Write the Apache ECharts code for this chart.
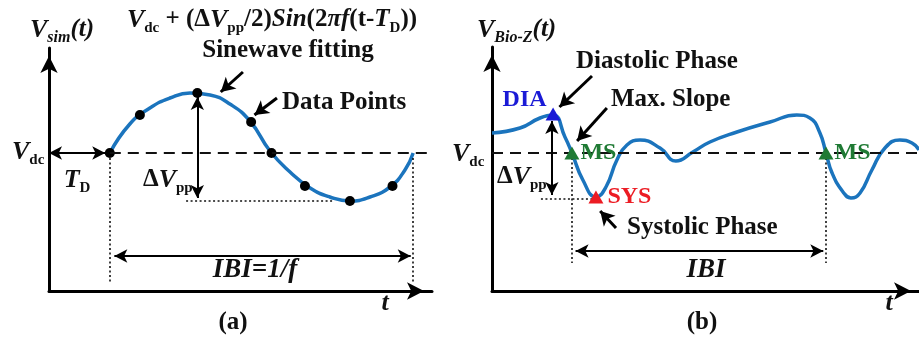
<!DOCTYPE html>
<html>
<head>
<meta charset="utf-8">
<title>Sinewave fitting / Bio-Z</title>
<script src="https://cdn.jsdelivr.net/npm/echarts@6/dist/echarts.min.js"></script>
<style>
  html, body { margin: 0; padding: 0; background: #fff; }
  #chart { width: 919px; height: 343px; }
</style>
</head>
<body>
<div id="chart"></div>
<script>
var FONT = '"Liberation Serif", "Times New Roman", serif';
var BLUE = '#1b74bd';

// (a) simulated signal + sinewave fitting  (t in s, V in a.u.)
var fitT = [0.200, 0.266, 0.332, 0.398, 0.464, 0.530, 0.595, 0.661, 0.727, 0.793, 0.859, 0.924, 0.990, 1.056, 1.122, 1.171, 1.198];
var fitV = [1.38, 1.67, 1.83, 1.93, 1.98, 1.96, 1.87, 1.70, 1.40, 1.19, 1.03, 0.94, 0.90, 0.94, 1.04, 1.21, 1.38];
var ptT = [0.20, 0.299, 0.488, 0.665, 0.732, 0.842, 0.990, 1.130];
var ptV = [1.38, 1.76, 1.98, 1.69, 1.38, 1.05, 0.90, 1.05];

// (b) measured Bio-Z waveform
var bioT = [0, 0.092, 0.158, 0.201, 0.240, 0.263, 0.299, 0.342, 0.375, 0.411, 0.444, 0.487, 0.553, 0.605, 0.661, 0.717,
            0.806, 0.915, 1.003, 1.046, 1.079, 1.099, 1.119, 1.155, 1.181, 1.211, 1.250, 1.293, 1.342, 1.382, 1.405];
var bioV = [1.58, 1.63, 1.73, 1.76, 1.54, 1.38, 1.11, 0.94, 1.04, 1.31, 1.46, 1.51, 1.43, 1.30, 1.39, 1.49,
            1.59, 1.69, 1.76, 1.73, 1.58, 1.38, 1.18, 0.99, 0.93, 0.98, 1.21, 1.43, 1.51, 1.48, 1.41];
var featName = ['DIA', 'MS', 'SYS', 'MS'];
var featT = [0.201, 0.263, 0.342, 1.099];
var featV = [1.77, 1.38, 0.94, 1.38];

var vdc = 1.38;

function zip(a, b) { return a.map(function (v, i) { return [v, b[i]]; }); }

var lineKinds = {
  dash: { line: { color: '#111', width: 2, type: [11, 7] }, s: ['none', 'none'] },
  dot:  { line: { color: '#111', width: 1.6, type: [2, 2.5] }, s: ['none', 'none'] },
  both: { line: { color: '#000', width: 2, type: 'solid' }, s: ['arrow', 'arrow'], size: [10, 13] },
  ptr:  { line: { color: '#000', width: 3, type: 'solid' }, s: ['none', 'arrow'], size: [12, 14] }
};
function seg(p, q, kind) {
  var k = lineKinds[kind];
  return [
    { coord: p, symbol: k.s[0], symbolSize: k.size || 1, lineStyle: k.line },
    { coord: q, symbol: k.s[1], symbolSize: k.size || 1, lineStyle: k.line }
  ];
}
function marks(list) {
  return { silent: true, animation: false, symbol: ['none', 'none'], label: { show: false },
           lineStyle: { type: 'solid', color: '#000' },
           emphasis: { disabled: true }, data: list };
}

function axisLine() {
  return { show: true, onZero: false, lineStyle: { color: '#000', width: 3 },
           symbol: ['none', 'arrow'], symbolSize: [13, 17], symbolOffset: [0, -8] };
}
function axis(idx, max) {
  return { type: 'value', gridIndex: idx, min: 0, max: max, axisLine: axisLine(),
           axisTick: { show: false }, axisLabel: { show: false }, splitLine: { show: false } };
}

var rich = {
  b:  { fontFamily: FONT, fontWeight: 'bold', fontSize: 25, lineHeight: 30 },
  i:  { fontFamily: FONT, fontWeight: 'bold', fontStyle: 'italic', fontSize: 25, lineHeight: 30 },
  w:  { fontFamily: FONT, fontWeight: 'bold', fontStyle: 'italic', fontSize: 27, lineHeight: 30 },
  V:  { fontFamily: FONT, fontWeight: 'bold', fontStyle: 'italic', fontSize: 26, lineHeight: 30 },
  s:  { fontFamily: FONT, fontWeight: 'bold', fontSize: 15, padding: [16, 0, 0, 0] },
  si: { fontFamily: FONT, fontWeight: 'bold', fontStyle: 'italic', fontSize: 16, padding: [16, 0, 0, 0] }
};
function txt(x, y, text, align, color) {
  return { type: 'text', x: x, y: y, silent: true,
           style: { text: text, rich: rich, align: align || 'left', verticalAlign: 'middle',
                    fill: color || '#111', fontFamily: FONT, fontWeight: 'bold', fontSize: 25 } };
}

var chart = echarts.init(document.getElementById('chart'));
chart.setOption({
  animation: false,
  backgroundColor: '#fff',
  grid: [
    { left: 49, top: 48, width: 383, height: 243 },
    { left: 492, top: 47, width: 427, height: 244 }
  ],
  xAxis: [axis(0, 1.26), axis(1, 1.405)],
  yAxis: [axis(0, 2.43), axis(1, 2.44)],
  series: [
    {
      type: 'line', xAxisIndex: 0, yAxisIndex: 0, data: zip(fitT, fitV), smooth: 0.5,
      showSymbol: false, lineStyle: { color: BLUE, width: 3.5 }, z: 3,
      markLine: marks([
        seg([0.20, vdc], [1.243, vdc], 'dash'),
        seg([0, vdc], [0.185, vdc], 'both'),
        seg([0.20, 1.33], [0.20, 0.07], 'dot'),
        seg([1.198, 1.33], [1.198, 0.07], 'dot'),
        seg([0.451, 0.90], [0.934, 0.90], 'dot'),
        seg([0.488, 1.94], [0.488, 0.93], 'both'),
        seg([0.215, 0.35], [1.19, 0.35], 'both'),
        seg([0.638, 2.19], [0.565, 1.99], 'ptr'),
        seg([0.750, 1.93], [0.676, 1.76], 'ptr')
      ])
    },
    {
      type: 'scatter', xAxisIndex: 0, yAxisIndex: 0, data: zip(ptT, ptV),
      symbolSize: 10, itemStyle: { color: '#000', opacity: 1 }, z: 4
    },
    {
      type: 'line', xAxisIndex: 1, yAxisIndex: 1, data: zip(bioT, bioV), smooth: 0.5,
      showSymbol: false, lineStyle: { color: BLUE, width: 3.5 }, z: 3,
      markLine: marks([
        seg([0, vdc], [1.405, vdc], 'dash'),
        seg([0.263, 1.33], [0.263, 0.28], 'dot'),
        seg([1.099, 1.33], [1.099, 0.28], 'dot'),
        seg([0.161, 0.92], [0.342, 0.92], 'dot'),
        seg([0.197, 1.70], [0.197, 0.96], 'both'),
        seg([0.275, 0.40], [1.09, 0.40], 'both'),
        seg([0.329, 2.15], [0.222, 1.84], 'ptr'),
        seg([0.378, 1.83], [0.280, 1.50], 'ptr'),
        seg([0.408, 0.63], [0.356, 0.80], 'ptr')
      ])
    },
    {
      type: 'scatter', xAxisIndex: 1, yAxisIndex: 1, symbol: 'triangle', symbolSize: [15, 13], z: 5,
      data: featName.map(function (n, i) {
        var c = n === 'DIA' ? '#1a1ad6' : (n === 'SYS' ? '#ec1c24' : '#1f7a34');
        return {
          value: [featT[i], featV[i]], itemStyle: { color: c, opacity: 1 },
          label: {
            show: true, formatter: n, color: c, opacity: 1, fontFamily: FONT, fontWeight: 'bold', fontSize: 24,
            position: n === 'DIA' ? 'left' : 'right',
            distance: n === 'SYS' ? 4 : 1,
            offset: n === 'DIA' ? [2, -14] : [0, 0]
          }
        };
      })
    }
  ],
  graphic: [
    txt(30, 30, '{V|V}{si|sim}{i|(t)}'),
    txt(272, 20, '{V|V}{s|dc}{b| + (Δ}{V|V}{s|pp}{b|/2)}{i|Sin}{b|(2}{i|πf}{b|(t-}{i|T}{s|D}{b|))}', 'center'),
    txt(288, 51, 'Sinewave fitting', 'center'),
    txt(282, 103, 'Data Points'),
    txt(12, 152, '{V|V}{s|dc}'),
    txt(77, 180, '{V|T}{s|D}', 'center'),
    txt(143, 180, '{b|Δ}{V|V}{s|pp}'),
    txt(255, 270, '{w|IBI=1/f}', 'center'),
    txt(385, 303, '{V|t}', 'center'),
    txt(233, 323, '(a)', 'center'),

    txt(477, 30, '{V|V}{si|Bio-Z}{i|(t)}'),
    txt(576, 62, 'Diastolic Phase'),
    txt(611, 100, 'Max. Slope'),
    txt(627, 228, 'Systolic Phase'),
    txt(452, 154, '{V|V}{s|dc}'),
    txt(497, 177, '{b|Δ}{V|V}{s|pp}'),
    txt(706, 270, '{w|IBI}', 'center'),
    txt(889, 303, '{V|t}', 'center'),
    txt(702, 323, '(b)', 'center')
  ]
});
</script>
</body>
</html>
